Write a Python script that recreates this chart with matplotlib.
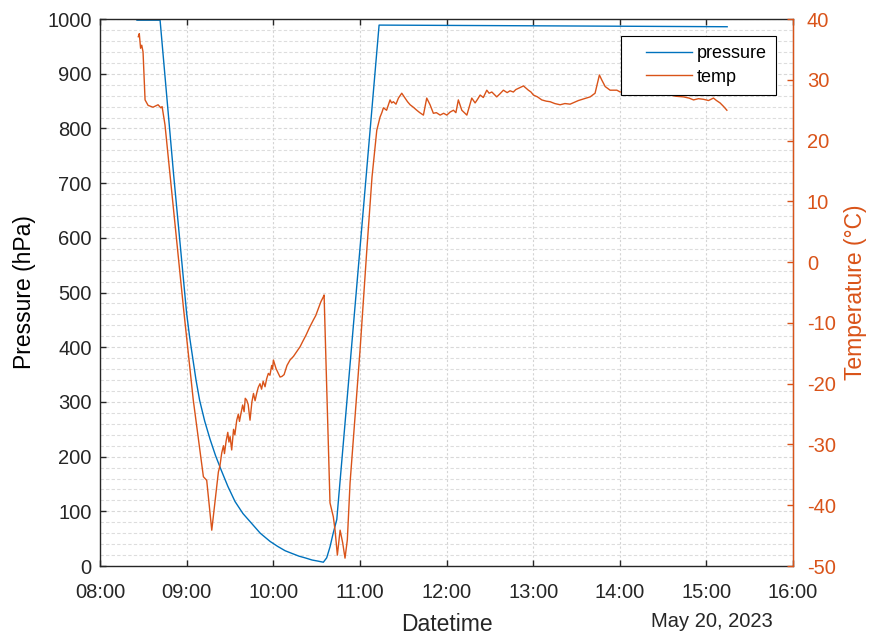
import matplotlib.pyplot as plt
import matplotlib.dates as mdates
from matplotlib.ticker import MultipleLocator
from matplotlib.legend_handler import HandlerLine2D
import numpy as np
import pandas as pd

# minutes after 08:00 on 2023-05-20
pressMin = [25.6, 41.6, 51.0, 60.0, 62.0, 64.4, 66.5, 69.0, 72.5, 76.2, 80.0, 84.0,
            88.5, 93.5, 99.0, 105.0, 111.0, 117.8, 123.0, 128.2, 133.0, 137.9, 142.0,
            146.9, 151.0, 154.7, 157.0, 159.3, 161.5, 164.0, 193.3, 277.0, 434.4]
pressure = [998, 998, 715, 462, 420, 377, 340, 303, 265, 232, 202, 175,
            146, 118, 96, 78, 60, 45, 36, 28, 23, 18, 15,
            11, 9, 7, 15, 35, 60, 85, 989, 988, 986]

tempMin = [26.5, 27.2, 28.1, 28.9, 29.8, 31.2, 33.3, 36.7, 40.2, 42.1, 43.0, 45.0,
           57.7, 64.6, 71.6, 73.9, 77.4, 80.8, 82.0, 83.0, 84.3, 85.5, 86.2, 87.3,
           88.5, 89.3, 90.1, 91.2, 92.5, 93.4, 94.7, 95.8, 96.6, 97.7, 98.8, 99.8,
           100.6, 101.6, 102.6, 103.9, 105.2, 106.3, 107.4, 108.6, 109.6, 110.8, 111.9,
           113.0, 114.3, 115.4, 116.6, 117.7, 118.9, 119.5, 120.1, 121.9, 124.7, 126.0,
           127.5, 129.5, 131.6, 134.0, 136.0, 138.6, 140.5, 142.7, 145.0, 147.8, 149.4,
           151.0, 153.0, 154.7, 155.2, 159.3, 161.6, 162.8, 164.4, 166.3, 168.1, 169.7,
           171.3, 173.2, 180.1, 184.8, 188.4, 191.7, 194.0, 195.2, 196.3, 198.5, 200.9,
           202.0, 203.2, 205.0, 206.7, 209.0, 211.3, 213.0, 214.8, 217.0, 219.4, 221.5,
           224.0, 226.3, 228.6, 230.9, 233.0, 235.6, 238.0, 240.2, 242.5, 244.8, 246.5,
           248.2, 250.6, 252.4, 254.1, 257.5, 259.8, 261.5, 263.3, 265.5, 267.9, 269.5,
           271.4, 274.8, 277.0, 279.4, 282.0, 284.0, 286.3, 288.0, 289.8, 293.3, 296.7,
           298.5, 300.2, 303.0, 306.0, 309.0, 311.8, 315.0, 318.7, 322.0, 325.6, 328.5,
           331.4, 335.5, 339.5, 342.9, 345.9, 347.5, 349.9, 353.3, 358.0, 360.3, 364.0,
           368.0, 372.0, 376.4, 381.0, 385.7, 390.0, 394.9, 399.0, 404.1, 408.0, 411.1,
           414.5, 418.0, 421.5, 424.9, 427.0, 429.5, 432.0, 434.2]
temp = [37.1, 37.6, 35.2, 35.7, 34.6, 26.7, 25.8, 25.5, 25.9, 25.4, 25.6, 22.6,
        -7.3, -22.7, -35.3, -35.9, -44.1, -37.0, -34.5, -33.6, -31.4, -30.2, -31.5, -29.5,
        -28.0, -29.6, -28.7, -30.9, -27.5, -28.4, -26.0, -25.0, -26.2, -24.8, -23.5, -24.6,
        -22.4, -22.7, -23.4, -26.0, -23.0, -21.6, -22.8, -21.5, -20.6, -20.0, -20.9,
        -19.6, -20.5, -19.2, -18.3, -18.6, -17.0, -17.6, -16.1, -17.5, -18.9, -18.8,
        -18.5, -17.0, -16.1, -15.5, -14.8, -13.9, -13.0, -12.0, -10.8, -9.5, -8.8,
        -7.8, -6.5, -5.7, -5.4, -39.6, -41.9, -44.1, -48.2, -44.1, -46.2, -48.7,
        -45.7, -36.3, -14.5, 2.0, 14.0, 21.7, 23.9, 24.6, 25.4, 25.0, 26.7,
        26.2, 26.4, 26.0, 27.0, 27.8, 27.0, 26.4, 25.9, 25.5, 25.0, 24.6,
        24.2, 27.0, 25.9, 24.5, 24.6, 24.2, 24.5, 24.2, 24.7, 25.0, 24.6,
        26.7, 25.0, 24.6, 24.2, 27.0, 26.2, 26.8, 27.5, 27.1, 28.3, 27.8,
        28.0, 27.2, 27.7, 28.3, 27.9, 28.2, 28.0, 28.4, 28.6, 29.0, 28.3,
        28.0, 27.5, 27.2, 26.7, 26.5, 26.4, 26.1, 25.9, 26.1, 26.0, 26.3,
        26.6, 26.9, 27.2, 27.8, 30.8, 30.0, 28.9, 28.3, 28.3, 28.0, 28.1,
        27.8, 28.0, 27.8, 27.6, 27.5, 27.7, 27.5, 27.3, 27.2, 27.0, 26.7,
        26.9, 26.8, 26.6, 27.0, 26.6, 26.2, 25.6, 25.0]

day = pd.Timestamp("2023-05-20 08:00")
pressTime = day + pd.to_timedelta(pressMin, unit="min")
tempTime = day + pd.to_timedelta(tempMin, unit="min")

blue = "#0072BD"
orange = "#D95319"

plt.rcParams['font.family'] = ['Liberation Sans', 'DejaVu Sans']
plt.rcParams['axes.unicode_minus'] = False


class PadHandler(HandlerLine2D):
    # legend line starts further right, like the MATLAB legend
    def get_xdata(self, legend, xdescent, ydescent, width, height, fontsize):
        x = np.array([-xdescent + 0.26 * width, -xdescent + width])
        return x, x


fig = plt.figure(figsize=(8.72, 6.36), dpi=100)
ax = fig.add_axes([0.1147, 0.110, 0.7947, 0.860])
ax2 = ax.twinx()

l1, = ax.plot(pressTime, pressure, color=blue, lw=1.0, label="pressure")
l2, = ax2.plot(tempTime, temp, color=orange, lw=1.0, label="temp")

ax.set_xlim(day, day + pd.Timedelta(hours=8))
ax.set_ylim(0, 1000)
ax2.set_ylim(-50, 40)
ax.xaxis.set_major_locator(mdates.HourLocator())
ax.xaxis.set_major_formatter(mdates.DateFormatter("%H:%M"))
ax.yaxis.set_major_locator(MultipleLocator(100))
ax.yaxis.set_minor_locator(MultipleLocator(20))
ax2.yaxis.set_major_locator(MultipleLocator(10))

# grid lines
ax.grid(True, which="major", axis="x", color="#d4d4d4", lw=0.8, ls=(0, (2, 2)))
ax.grid(True, which="major", axis="y", color="#d8d8d8", lw=0.8, ls=(0, (3, 2)))
ax.grid(True, which="minor", axis="y", color="#dddddd", lw=0.8, ls=(0, (3, 2)))
ax.set_axisbelow(True)

ax.tick_params(axis="both", which="major", direction="in", length=4, width=1,
               labelsize=14.5, colors="#262626", top=True)
ax.tick_params(axis="y", which="minor", left=False)
ax.tick_params(axis="x", pad=12)
ax.tick_params(axis="y", pad=6)
ax2.tick_params(axis="y", direction="in", length=4, width=1, labelsize=14.5,
                colors=orange, pad=10)

for s in ["left", "bottom", "top"]:
    ax.spines[s].set_linewidth(1.0)
    ax.spines[s].set_color("#262626")
ax2.spines["right"].set_color(orange)
ax2.spines["right"].set_linewidth(1.0)
for s in ["left", "bottom", "top"]:
    ax2.spines[s].set_visible(False)

ax.set_xlabel("Datetime", fontsize=16.5, color="#262626", labelpad=8)
ax.set_ylabel("Pressure (hPa)", fontsize=16.5, color="black", labelpad=8)
ax2.set_ylabel("Temperature (°C)", fontsize=16.5, color=orange, labelpad=6)
ax.annotate("May 20, 2023", xy=(0.971, -0.102), xycoords="axes fraction",
            ha="right", va="center", fontsize=14.5, color="#262626")

leg = ax2.legend(handles=[l1, l2], loc="upper right", bbox_to_anchor=(0.9755, 0.969),
                 fontsize=13, frameon=True, fancybox=False, handlelength=3.45,
                 handletextpad=0.28, borderpad=0.5, labelspacing=0.37, borderaxespad=0,
                 handler_map={l1: PadHandler(), l2: PadHandler()})
leg.get_frame().set_edgecolor("black")
leg.get_frame().set_linewidth(0.8)
leg.get_frame().set_alpha(1)

fig.savefig("out.png", dpi=100)
